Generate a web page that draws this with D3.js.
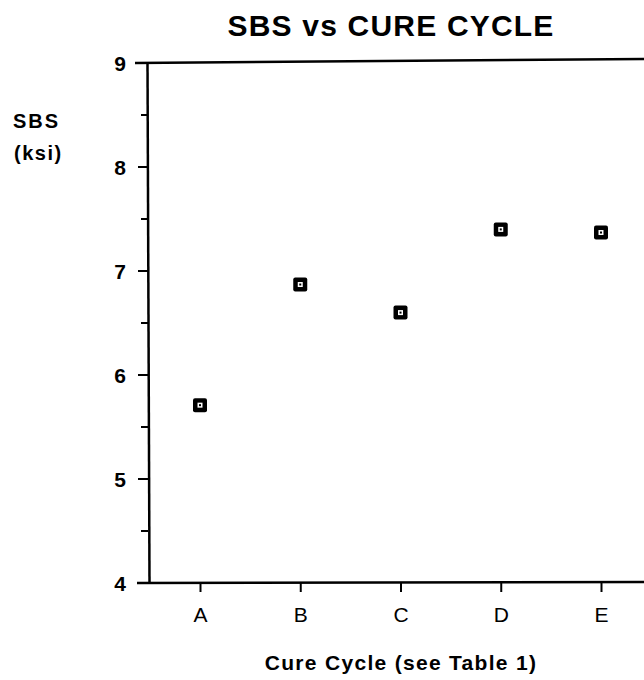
<!DOCTYPE html>
<html><head><meta charset="utf-8">
<script src="https://cdn.jsdelivr.net/npm/d3@7"></script>
<style>body{margin:0;background:#fff;} svg{display:block;}</style>
</head><body>
<svg id="chart" width="644" height="680"></svg>
<script>
const categories = ["A","B","C","D","E"];
const sbsValues = [5.71, 6.87, 6.60, 7.40, 7.37];
const yTickValues = [4,5,6,7,8,9];
const yMinorTicks = [4.5,5.5,6.5,7.5,8.5];

const svg = d3.select("#chart");
const font = "'Liberation Sans', Arial, Helvetica, sans-serif";
const x = d3.scalePoint().domain(categories).range([200, 601]);
const y = d3.scaleLinear().domain([4, 9]).range([583, 63]);

// frame lines (top edge slightly skewed as in the scanned original)
svg.append("line").attr("x1", 135).attr("x2", 644).attr("y1", y(9)).attr("y2", y(9) - 4)
  .attr("stroke", "#000").attr("stroke-width", 2.5);
svg.append("line").attr("x1", 137).attr("x2", 644).attr("y1", y(4)).attr("y2", y(4) - 1)
  .attr("stroke", "#000").attr("stroke-width", 2.5);
svg.append("line").attr("x1", 147.5).attr("x2", 149.5).attr("y1", y(9)).attr("y2", y(4))
  .attr("stroke", "#000").attr("stroke-width", 2.5);

// y ticks
const yAxis = d3.axisLeft(y).tickValues(yTickValues).tickSize(0).tickPadding(0).tickFormat(d3.format("d"));
const gy = svg.append("g").attr("transform", "translate(148,0)").call(yAxis);
gy.select(".domain").remove();
gy.selectAll("text").attr("x", -22).attr("dy", "0.36em")
  .style("font-family", font).style("font-size", "21px").style("font-weight", "bold").attr("fill", "#000");
svg.selectAll(".minor").data(yMinorTicks).enter().append("line")
  .attr("x1", 141).attr("x2", 148).attr("y1", d => y(d)).attr("y2", d => y(d))
  .attr("stroke", "#000").attr("stroke-width", 2);
svg.selectAll(".major").data(yTickValues.filter(d => d > 4 && d < 9)).enter().append("line")
  .attr("x1", 138).attr("x2", 148).attr("y1", d => y(d)).attr("y2", d => y(d))
  .attr("stroke", "#000").attr("stroke-width", 2);

// x axis ticks
const xAxis = d3.axisBottom(x).tickSize(9).tickPadding(15);
const gx = svg.append("g").attr("transform", `translate(0,${y(4)})`).call(xAxis);
gx.select(".domain").remove();
gx.selectAll("line").attr("stroke", "#000").attr("stroke-width", 2);
gx.selectAll("text").style("font-family", font).style("font-size", "21px").attr("fill", "#000");

// markers
const pts = svg.append("g").selectAll("g").data(categories).enter().append("g")
  .attr("transform", (d, i) => `translate(${x(d)},${y(sbsValues[i])})`);
pts.append("rect").attr("x", -7).attr("y", -7).attr("width", 14).attr("height", 14)
  .attr("rx", 2).attr("fill", "#000");
pts.append("rect").attr("x", -2.5).attr("y", -2.5).attr("width", 5).attr("height", 5)
  .attr("fill", "#fff");
pts.append("rect").attr("x", -1).attr("y", -1).attr("width", 2).attr("height", 2)
  .attr("fill", "#000");

// titles
svg.append("text").attr("x", 391).attr("y", 36).attr("text-anchor", "middle")
  .style("font-family", font).style("font-size", "30px").style("font-weight", "bold")
  .style("letter-spacing", "1.2px")
  .text("SBS vs CURE CYCLE");
svg.append("text").attr("x", 13).attr("y", 128)
  .style("font-family", font).style("font-size", "20px").style("font-weight", "bold")
  .style("letter-spacing", "2px").text("SBS");
svg.append("text").attr("x", 14).attr("y", 160)
  .style("font-family", font).style("font-size", "20px").style("font-weight", "bold")
  .style("letter-spacing", "1.5px").text("(ksi)");
svg.append("text").attr("x", 401).attr("y", 670).attr("text-anchor", "middle")
  .style("font-family", font).style("font-size", "21px").style("font-weight", "bold")
  .style("letter-spacing", "1.3px")
  .text("Cure Cycle (see Table 1)");
</script>
</body></html>
